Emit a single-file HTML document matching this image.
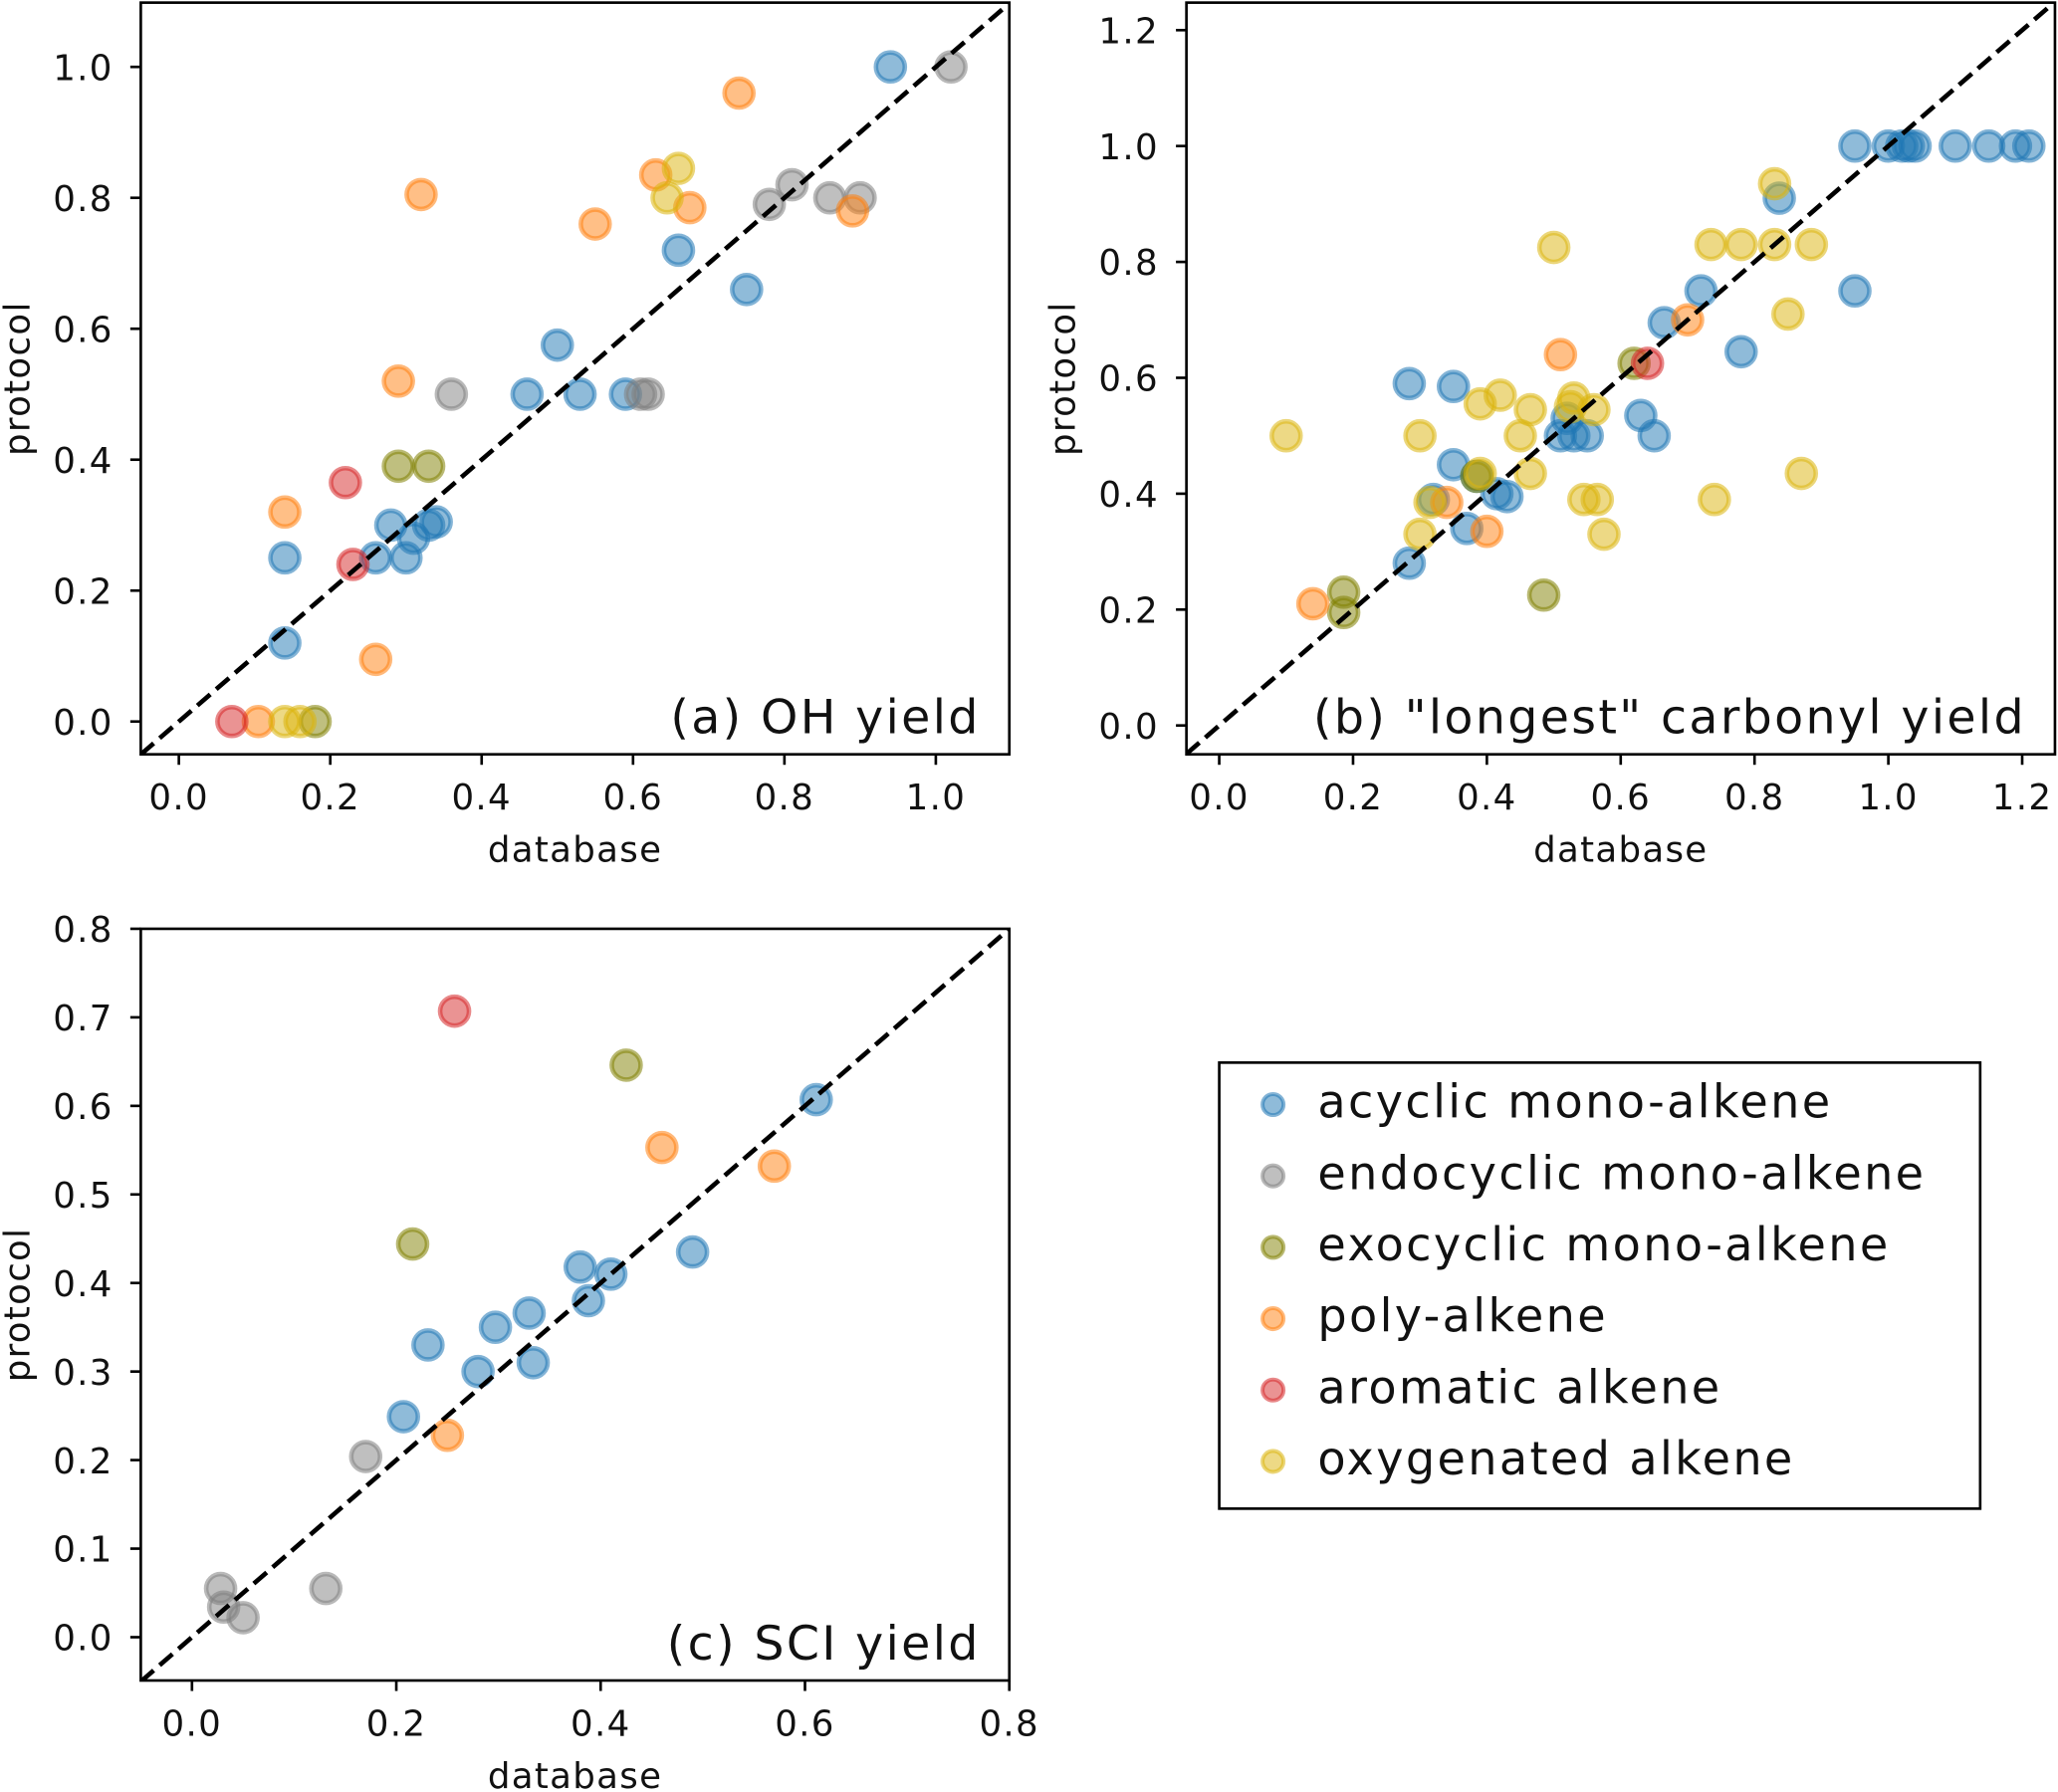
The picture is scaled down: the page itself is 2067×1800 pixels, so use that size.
<!DOCTYPE html>
<html><head><meta charset="utf-8"><style>
html,body{margin:0;padding:0;background:#fff}
svg{display:block}
text{font-family:"DejaVu Sans","Liberation Sans",sans-serif;fill:#111}
</style></head><body>
<svg id="fig" width="2067" height="1800" viewBox="0 0 1568 1366" xmlns="http://www.w3.org/2000/svg"></svg>
<script>
// ---- data ----
const categories = ["acyclic mono-alkene","endocyclic mono-alkene","exocyclic mono-alkene","poly-alkene","aromatic alkene","oxygenated alkene"];
const colors = ["#1f77b4","#7f7f7f","#808000","#ff7f0e","#d62728","#dbb40c"];
const keys = ["acyclic","endocyclic","exocyclic","poly","aromatic","oxygenated"];

const ohAcyclic = [[0.94,1.0],[0.66,0.72],[0.75,0.66],[0.50,0.575],[0.46,0.50],[0.53,0.50],[0.59,0.50],[0.28,0.30],[0.33,0.30],[0.34,0.305],[0.31,0.28],[0.26,0.25],[0.30,0.25],[0.14,0.25],[0.14,0.12]];
const ohEndocyclic = [[1.02,1.0],[0.81,0.82],[0.78,0.79],[0.86,0.80],[0.90,0.80],[0.36,0.50],[0.61,0.50],[0.62,0.50]];
const ohExocyclic = [[0.29,0.39],[0.33,0.39],[0.18,0.0]];
const ohPoly = [[0.74,0.96],[0.32,0.805],[0.63,0.835],[0.55,0.76],[0.675,0.785],[0.89,0.78],[0.29,0.52],[0.14,0.32],[0.26,0.095],[0.105,0.0]];
const ohAromatic = [[0.22,0.365],[0.23,0.24],[0.07,0.0]];
const ohOxygenated = [[0.66,0.845],[0.645,0.80],[0.14,0.0],[0.16,0.0]];

const coAcyclic = [[0.95,1.0],[1.0,1.0],[1.02,1.0],[1.03,1.0],[1.04,1.0],[1.1,1.0],[1.15,1.0],[1.19,1.0],[1.21,1.0],[0.837,0.91],[0.95,0.75],[0.78,0.645],[0.72,0.75],[0.665,0.695],[0.284,0.59],[0.35,0.585],[0.35,0.45],[0.63,0.535],[0.65,0.50],[0.51,0.5],[0.53,0.5],[0.55,0.5],[0.52,0.53],[0.415,0.40],[0.43,0.395],[0.37,0.34],[0.32,0.39],[0.284,0.28],[0.385,0.43]];
const coEndocyclic = [];
const coExocyclic = [[0.186,0.23],[0.186,0.195],[0.485,0.225],[0.385,0.43],[0.62,0.625]];
const coPoly = [[0.14,0.21],[0.40,0.335],[0.51,0.64],[0.70,0.70],[0.34,0.385]];
const coAromatic = [[0.64,0.625]];
const coOxygenated = [[0.10,0.50],[0.30,0.50],[0.50,0.825],[0.83,0.935],[0.735,0.83],[0.78,0.83],[0.83,0.83],[0.885,0.83],[0.85,0.71],[0.87,0.435],[0.74,0.39],[0.575,0.33],[0.545,0.39],[0.565,0.39],[0.30,0.33],[0.315,0.385],[0.39,0.555],[0.42,0.57],[0.465,0.545],[0.53,0.565],[0.56,0.545],[0.45,0.50],[0.465,0.435],[0.39,0.435],[0.525,0.55]];

const sciAcyclic = [[0.611,0.607],[0.49,0.435],[0.41,0.41],[0.38,0.418],[0.388,0.38],[0.33,0.366],[0.297,0.35],[0.334,0.31],[0.28,0.30],[0.231,0.33],[0.207,0.249]];
const sciEndocyclic = [[0.17,0.204],[0.131,0.055],[0.028,0.055],[0.031,0.034],[0.05,0.022]];
const sciExocyclic = [[0.425,0.646],[0.216,0.444]];
const sciPoly = [[0.46,0.553],[0.57,0.532],[0.25,0.228]];
const sciAromatic = [[0.257,0.707]];
const sciOxygenated = [];

const ohTicks = [0.0,0.2,0.4,0.6,0.8,1.0];
const coTicks = [0.0,0.2,0.4,0.6,0.8,1.0,1.2];
const sciTicks = [0.0,0.1,0.2,0.3,0.4,0.5,0.6,0.7,0.8];
const sciXTicks = [0.0,0.2,0.4,0.6,0.8];

// ---- drawing ----
const NS = "http://www.w3.org/2000/svg";
const svg = document.getElementById("fig");
function mk(tag, attrs, parent){
  const e = document.createElementNS(NS, tag);
  for (const k in attrs) e.setAttribute(k, attrs[k]);
  (parent||svg).appendChild(e);
  return e;
}
function panel(name, box, xr, yr, xticks, yticks, series, title){
  const g = mk("g", {});
  
  
  const sx = v => box.x0 + (v - xr[0])/(xr[1]-xr[0])*(box.x1-box.x0);
  const sy = v => box.y1 - (v - yr[0])/(yr[1]-yr[0])*(box.y1-box.y0);
  const clipId = name + "-clip";
  const cp = mk("clipPath", {id: clipId}, g);
  mk("rect", {x: box.x0, y: box.y0, width: box.x1-box.x0, height: box.y1-box.y0}, cp);
  const pg = mk("g", {"clip-path": "url(#"+clipId+")"}, g);
  series.forEach((pts, i) => {
    pts.forEach(p => {
      const c = mk("circle", {cx: sx(p[0]), cy: sy(p[1]), r: 11, fill: colors[i], "fill-opacity": 0.5, stroke: colors[i], "stroke-opacity": 0.55, "stroke-width": 3.5}, pg);
      
      
    });
  });
  const dl = mk("line", {x1: sx(xr[0]), y1: sy(xr[0]), x2: sx(xr[1]), y2: sy(xr[1]), stroke: "#000", "stroke-width": 3.5, "stroke-dasharray": "13,6"}, pg);
  
  
  const fr = mk("rect", {x: box.x0, y: box.y0, width: box.x1-box.x0, height: box.y1-box.y0, fill: "none", stroke: "#000", "stroke-width": 2}, g);
  
  
  xticks.forEach(t => {
    const x = sx(t);
    mk("line", {x1: x, x2: x, y1: box.y1, y2: box.y1+8, stroke: "#000", "stroke-width": 2}, g);
    const tx = mk("text", {x: x, y: box.y1+42, "text-anchor": "middle", "font-size": 27, "letter-spacing": 1}, g);
    tx.textContent = t.toFixed(1);
    
    
  });
  yticks.forEach(t => {
    const y = sy(t);
    mk("line", {x1: box.x0-8, x2: box.x0, y1: y, y2: y, stroke: "#000", "stroke-width": 2}, g);
    const ty = mk("text", {x: box.x0-21, y: y+10, "text-anchor": "end", "font-size": 27, "letter-spacing": 1}, g);
    ty.textContent = t.toFixed(1);
    
    
  });
  const xl = mk("text", {x: (box.x0+box.x1)/2, y: box.y1+82, "text-anchor": "middle", "font-size": 27, "letter-spacing": 1}, g);
  xl.textContent = "database";
  
  
  const cyl = (box.y0+box.y1)/2;
  const yl = mk("text", {x: box.x0-85, y: cyl, "text-anchor": "middle", "font-size": 27, "letter-spacing": 1, transform: "rotate(-90 "+(box.x0-85)+" "+cyl+")"}, g);
  yl.textContent = "protocol";
  
  
  const tt = mk("text", {x: box.x1-22, y: box.y1-16, "text-anchor": "end", "font-size": 36, "letter-spacing": 1.8}, g);
  tt.textContent = title;
  
  
}
panel("panel-oh-yield", {x0:107,x1:769,y0:2,y1:575}, [-0.0503,1.0971], [-0.0501,1.0982], ohTicks, ohTicks,
  [ohAcyclic,ohEndocyclic,ohExocyclic,ohPoly,ohAromatic,ohOxygenated], "(a) OH yield");
panel("panel-carbonyl-yield", {x0:904,x1:1566,y0:2,y1:575}, [-0.049,1.249], [-0.0498,1.2475], coTicks, coTicks,
  [coAcyclic,coEndocyclic,coExocyclic,coPoly,coAromatic,coOxygenated], "(b) \"longest\" carbonyl yield");
panel("panel-sci-yield", {x0:107,x1:769,y0:708,y1:1281}, [-0.0501,0.8], [-0.0489,0.8], sciXTicks, sciTicks,
  [sciAcyclic,sciEndocyclic,sciExocyclic,sciPoly,sciAromatic,sciOxygenated], "(c) SCI yield");

// legend
const lg = mk("g", {});


mk("rect", {x: 929, y: 810, width: 580, height: 340, fill: "#fff", stroke: "#000", "stroke-width": 2}, lg);
categories.forEach((c, i) => {
  const y = 840 + i*54.4;
  const e = mk("g", {}, lg);
  
  
  mk("circle", {cx: 970, cy: y+2, r: 8, fill: colors[i], "fill-opacity": 0.5, stroke: colors[i], "stroke-opacity": 0.55, "stroke-width": 3}, e);
  const t = mk("text", {x: 1004, y: y+12, "font-size": 35, "letter-spacing": 1.8}, e);
  t.textContent = c;
});
</script>
</body></html>
